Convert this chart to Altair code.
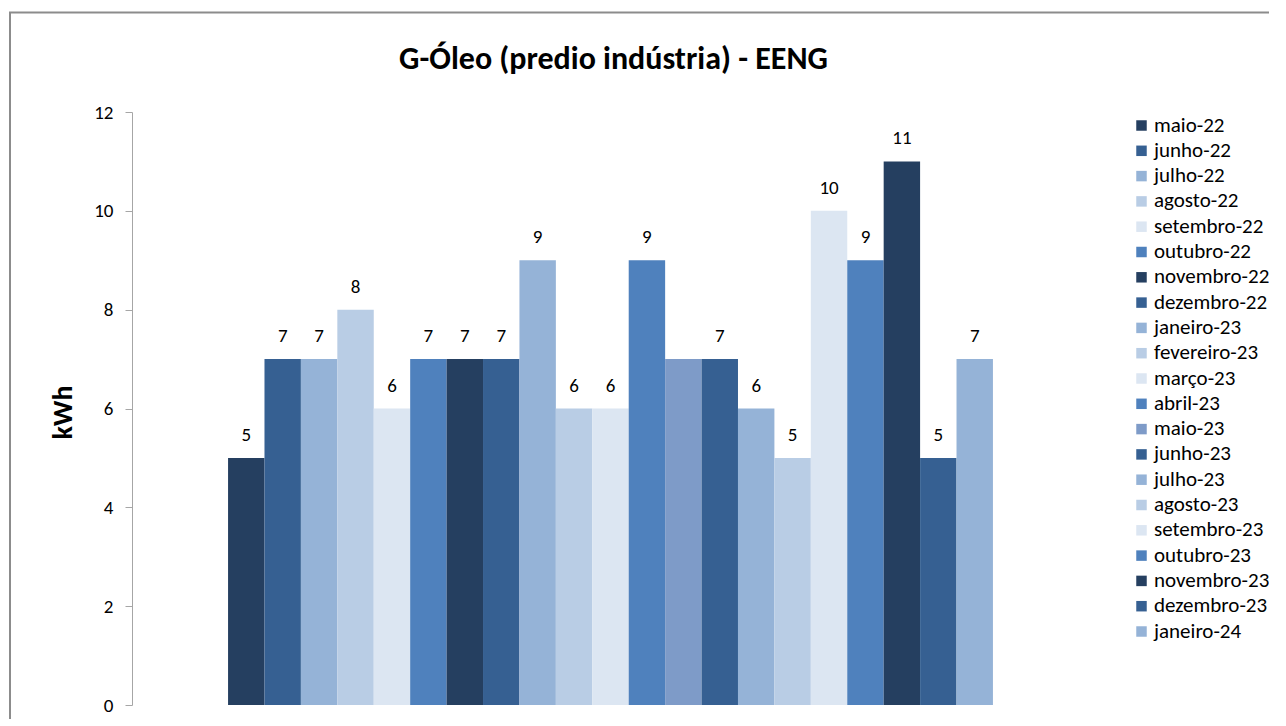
import altair as alt
import pandas as pd

months = ["maio-22", "junho-22", "julho-22", "agosto-22", "setembro-22", "outubro-22",
          "novembro-22", "dezembro-22", "janeiro-23", "fevereiro-23", "março-23", "abril-23",
          "maio-23", "junho-23", "julho-23", "agosto-23", "setembro-23", "outubro-23",
          "novembro-23", "dezembro-23", "janeiro-24"]
values = [5, 7, 7, 8, 6, 7, 7, 7, 9, 6, 6, 9, 7, 7, 6, 5, 10, 9, 11, 5, 7]
show_label = [True] * 12 + [False] + [True] * 8
colors = ["#253F60", "#366092", "#95B3D7", "#B9CDE5", "#DCE6F2", "#4F81BD",
          "#253F60", "#366092", "#95B3D7", "#B9CDE5", "#DCE6F2", "#4F81BD",
          "#7E9BC8", "#366092", "#95B3D7", "#B9CDE5", "#DCE6F2", "#4F81BD",
          "#253F60", "#366092", "#95B3D7"]

df = pd.DataFrame({
    "mes": months,
    "kwh": values,
    "idx": list(range(len(months))),
    "rotulo": [str(v) if s else "" for v, s in zip(values, show_label)],
})

FONT = "Carlito, Lato, Open Sans, sans-serif"

base = alt.Chart(df).transform_calculate(
    x0="datum.idx - 0.5", x1="datum.idx + 0.5"
)

xscale = alt.Scale(domain=[-3, 23], nice=False, zero=False)
yscale = alt.Scale(domain=[0, 12], nice=False)

bars = base.mark_bar(stroke=None, orient="vertical").encode(
    x=alt.X("x0:Q", scale=xscale, axis=None),
    x2="x1:Q",
    y=alt.Y("kwh:Q", scale=yscale,
            axis=alt.Axis(values=[0, 2, 4, 6, 8, 10, 12], title="kWh", grid=False,
                          domainColor="#A6A6A6", tickColor="#A6A6A6", tickSize=7,
                          labelPadding=12, labelFontSize=19, labelFont=FONT,
                          labelColor="#000000", titleFont=FONT, titleFontSize=28,
                          titleFontWeight="bold", titleColor="#000000",
                          titleX=-69, titleY=300, titleBaseline="middle", titleAngle=-90)),
    y2=alt.datum(0),
    color=alt.Color("mes:N", scale=alt.Scale(domain=months, range=colors),
                    sort=months,
                    legend=alt.Legend(title=None, orient="none", legendX=999, legendY=3,
                                      symbolType="square", symbolSize=110,
                                      symbolStrokeWidth=0, labelFontSize=21,
                                      labelFont=FONT, labelColor="#000000",
                                      rowPadding=3.3, labelOffset=2, padding=0,
                                      labelLimit=300)),
)

labels = base.mark_text(baseline="alphabetic", dy=-17, fontSize=19, font=FONT,
                        color="#000000").encode(
    x=alt.X("idx:Q", scale=xscale),
    y=alt.Y("kwh:Q", scale=yscale),
    text="rotulo:N",
)

frame_df = pd.DataFrame({"a": [0]})
frame_left = alt.Chart(frame_df).mark_rule(color="#8C8C8C", strokeWidth=2).encode(
    x=alt.value(-122), y=alt.value(-99.5), y2=alt.value(620))
frame_top = alt.Chart(frame_df).mark_rule(color="#8C8C8C", strokeWidth=2).encode(
    x=alt.value(-123), x2=alt.value(1160), y=alt.value(-99.5))

chart = alt.layer(bars, labels, frame_left, frame_top).properties(
    width=957, height=593,
    title=alt.TitleParams("G-Óleo (predio indústria) - EENG", font=FONT, fontSize=32,
                          fontWeight="bold", color="#000000", anchor="middle",
                          dx=3, offset=0, baseline="alphabetic", dy=89),
    autosize=alt.AutoSizeParams(type="none"),
    padding={"left": 124, "top": 104, "right": 180, "bottom": 14},
).configure_view(stroke=None)

chart.save("out.html", embed_options={"renderer": "svg", "actions": False})
